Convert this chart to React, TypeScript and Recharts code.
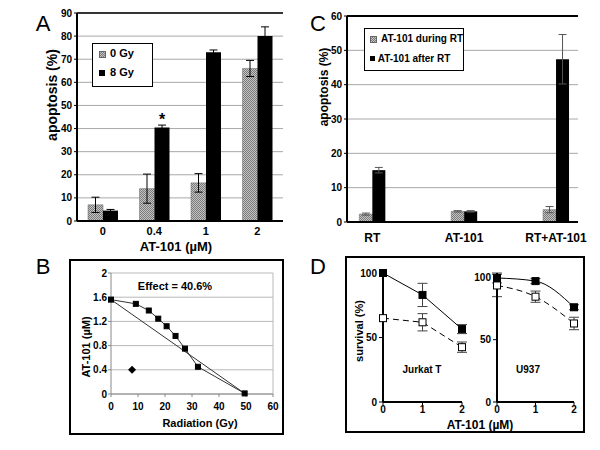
import React from 'react';
import {
  BarChart, Bar, XAxis, YAxis, CartesianGrid, ErrorBar, LabelList,
  ReferenceLine, ComposedChart, Line, LineChart,
} from 'recharts';

// ---------- Panel A ----------
const doseA = ['0', '0.4', '1', '2'];
const apop0Gy = [7, 14, 16.5, 66];
const apop0GyErr = [3.3, 6.3, 4, 3.5];
const apop8Gy = [4.5, 40.5, 73, 80];
const apop8GyErr = [0.5, 1, 1, 4];
const sigA = ['', '*', '', ''];
const ticksA = [0, 10, 20, 30, 40, 50, 60, 70, 80, 90];

// ---------- Panel C ----------
const groupsC = ['RT', 'AT-101', 'RT+AT-101'];
const duringRT = [2.3, 3.1, 3.6];
const duringRTErr = [0.3, 0.2, 0.9];
const afterRT = [15.1, 3.1, 47.4];
const afterRTErr = [0.8, 0.2, 7.2];
const ticksC = [0, 10, 20, 30, 40, 50, 60];

// ---------- Panel B ----------
const isoRad = [0, 9.2, 14, 17.5, 20.6, 23.9, 27.4, 32.2, 49.5];
const isoDose = [1.56, 1.49, 1.38, 1.245, 1.12, 0.96, 0.75, 0.45, 0.01];
const addRad = [0, 49.5];
const addDose = [1.56, 0.01];
const comboRad = [7.8];
const comboDose = [0.4];
const ticksBx = [0, 10, 20, 30, 40, 50, 60];
const ticksBy = [0, 0.4, 0.8, 1.2, 1.6, 2];

// ---------- Panel D ----------
const doseD = [0, 1, 2];
const jurkatAT = [100, 83, 56.5];
const jurkatATErr = [0, 9, 3.5];
const jurkatATRT = [65, 61.8, 42.5];
const jurkatATRTErr = [0, 6.7, 4];
const u937AT = [99.5, 97, 76];
const u937ATErr = [4, 2, 2];
const u937ATRT = [93.5, 84.5, 63];
const u937ATRTErr = [9, 4.5, 5];
const ticksDy = [0, 50, 100];

const FONT = '"Liberation Sans", Arial, Helvetica, sans-serif';

const dataA = doseA.map((d, i) => ({
  dose: d, g0: apop0Gy[i], g0e: apop0GyErr[i], g8: apop8Gy[i], g8e: apop8GyErr[i], star: sigA[i],
}));
const dataC = groupsC.map((g, i) => ({
  pos: i, d: duringRT[i], de: duringRTErr[i], a: afterRT[i], ae: afterRTErr[i],
}));
const isoData = isoRad.map((x, i) => ({ x, y: isoDose[i] }));
const addData = addRad.map((x, i) => ({ x, y: addDose[i] }));
const comboData = comboRad.map((x, i) => ({ x, y: comboDose[i] }));
const dataJ = doseD.map((x, i) => ({ x, c: jurkatAT[i], ce: jurkatATErr[i], r: jurkatATRT[i], re: jurkatATRTErr[i] }));
const dataU = doseD.map((x, i) => ({ x, c: u937AT[i], ce: u937ATErr[i], r: u937ATRT[i], re: u937ATRTErr[i] }));

const tickStyle = (size: number) => ({ fontSize: size, fontWeight: 'bold', fill: '#000', fontFamily: FONT });

function Txt({ x, y, size, children, rotate = false, bold = true }: any) {
  return (
    <div style={{
      position: 'absolute', left: x, top: y,
      transform: `translate(-50%,-50%)${rotate ? ' rotate(-90deg)' : ''}`,
      fontSize: size, fontWeight: bold ? 'bold' : 'normal', whiteSpace: 'nowrap',
      lineHeight: 1, fontFamily: FONT, color: '#000',
    }}>{children}</div>
  );
}

const hatchCss = 'repeating-conic-gradient(#7a7a7a 0 25%, #c4c4c4 0 50%) 0 0/2px 2px';

function Hatch({ id }: { id: string }) {
  return (
    <defs>
      <pattern id={id} width="2" height="2" patternUnits="userSpaceOnUse">
        <rect width="2" height="2" fill="#c4c4c4" />
        <rect width="1" height="1" fill="#7a7a7a" />
        <rect x="1" y="1" width="1" height="1" fill="#7a7a7a" />
      </pattern>
    </defs>
  );
}

const SquareDot = (size: number, fill: string) => (props: any) => {
  const { cx, cy, index } = props;
  if (cx == null || cy == null) return <g key={index} />;
  return <rect key={index} x={cx - size / 2} y={cy - size / 2} width={size} height={size} fill={fill} stroke="#000" strokeWidth={1} />;
};

const DiamondDot = (props: any) => {
  const { cx, cy, index } = props;
  if (cx == null || cy == null) return <g key={index} />;
  const r = 4;
  return <path key={index} d={`M${cx},${cy - r}L${cx + r},${cy}L${cx},${cy + r}L${cx - r},${cy}Z`} fill="#000" />;
};

export default function App() {
  return (
    <div style={{ position: 'absolute', left: 0, top: 0, width: 600, height: 450, background: '#fff', fontFamily: FONT }}>
      {/* Panel A */}
      <div style={{ position: 'absolute', left: 0, top: 0 }}>
        <BarChart width={300} height={250} data={dataA} margin={{ top: 13, right: 17, bottom: 9, left: 47 }} barGap={0} barSize={15}>
          <Hatch id="hatchA" />
          <CartesianGrid vertical={false} stroke="#a8a8a8" />
          <XAxis dataKey="dose" height={20} axisLine={{ stroke: '#000', strokeWidth: 2 }} tickLine={false} tickSize={4} tick={tickStyle(11)} />
          <YAxis width={30} domain={[0, 90]} ticks={ticksA} interval={0} axisLine={{ stroke: '#000', strokeWidth: 2 }} tickLine={{ stroke: '#000' }} tickSize={3} tick={tickStyle(10)} />
          <YAxis yAxisId="r" orientation="right" width={0} domain={[0, 90]} tick={false} tickLine={false} axisLine={{ stroke: '#000', strokeWidth: 1.5 }} />
          <ReferenceLine y={90} stroke="#000" strokeWidth={1.5} />
          <Bar dataKey="g0" fill="url(#hatchA)" stroke="#666" strokeWidth={0.5} isAnimationActive={false}>
            <ErrorBar dataKey="g0e" width={4} stroke="#000" strokeWidth={1} direction="y" />
          </Bar>
          <Bar dataKey="g8" fill="#000" isAnimationActive={false}>
            <ErrorBar dataKey="g8e" width={4} stroke="#000" strokeWidth={1} direction="y" />
            <LabelList dataKey="star" position="top" offset={2} fill="#000" style={{ fontSize: 16, fontWeight: 'bold', fontFamily: FONT }} />
          </Bar>
        </BarChart>
      </div>
      <div style={{ position: 'absolute', left: 92, top: 43, width: 61, height: 44, border: '1px solid #000', background: '#fff', boxSizing: 'border-box' }}>
        <div style={{ position: 'absolute', left: 6, top: 7, width: 5, height: 5, background: hatchCss, border: '0.5px solid #666' }} />
        <div style={{ position: 'absolute', left: 6, top: 26, width: 6, height: 6, background: '#000' }} />
      </div>
      <Txt x={122} y={53} size={11}>0 Gy</Txt>
      <Txt x={122} y={72} size={11}>8 Gy</Txt>
      <Txt x={52} y={95} size={14} rotate>apoptosis (%)</Txt>
      <Txt x={176} y={246} size={13}>AT-101 (µM)</Txt>
      <Txt x={43} y={24} size={22} bold={false}>A</Txt>

      {/* Panel C */}
      <div style={{ position: 'absolute', left: 300, top: 0 }}>
        <BarChart width={300} height={250} data={dataC} margin={{ top: 16, right: 22, bottom: 8, left: 17 }} barGap={0} barSize={13}>
          <Hatch id="hatchC" />
          <CartesianGrid vertical={false} stroke="#a8a8a8" />
          <XAxis type="number" dataKey="pos" domain={[-0.275, 2.24]} ticks={[0, 1, 2]} tickFormatter={(v: number) => groupsC[v]} height={20} axisLine={{ stroke: '#000', strokeWidth: 2 }} tickLine={false} tickMargin={5} tick={tickStyle(12)} />
          <YAxis width={30} domain={[0, 60]} ticks={ticksC} interval={0} axisLine={{ stroke: '#000', strokeWidth: 2 }} tickLine={{ stroke: '#000' }} tickSize={3} tick={tickStyle(10)} />
          <YAxis yAxisId="r" orientation="right" width={0} domain={[0, 60]} tick={false} tickLine={false} axisLine={{ stroke: '#000', strokeWidth: 2 }} />
          <ReferenceLine y={60} stroke="#000" strokeWidth={2} />
          <Bar dataKey="d" fill="url(#hatchC)" stroke="#666" strokeWidth={0.5} isAnimationActive={false}>
            <ErrorBar dataKey="de" width={4} stroke="#555" strokeWidth={1} direction="y" />
          </Bar>
          <Bar dataKey="a" fill="#000" isAnimationActive={false}>
            <ErrorBar dataKey="ae" width={4} stroke="#555" strokeWidth={1} direction="y" />
          </Bar>
        </BarChart>
      </div>
      <div style={{ position: 'absolute', left: 364, top: 28, width: 100, height: 43, border: '1px solid #000', background: '#fff', boxSizing: 'border-box' }}>
        <div style={{ position: 'absolute', left: 5, top: 7, width: 5, height: 5, background: hatchCss, border: '0.5px solid #666' }} />
        <div style={{ position: 'absolute', left: 5, top: 27, width: 5, height: 5, background: '#000' }} />
      </div>
      <Txt x={422} y={39} size={10}>AT-101 during RT</Txt>
      <Txt x={414} y={59} size={10}>AT-101 after RT</Txt>
      <Txt x={324} y={87} size={12} rotate>apoptosis (%)</Txt>
      <Txt x={318} y={24} size={22} bold={false}>C</Txt>

      {/* Panel B */}
      <div style={{ position: 'absolute', left: 69, top: 259, width: 215, height: 176, border: '2px solid #000', boxSizing: 'border-box' }} />
      <div style={{ position: 'absolute', left: 0, top: 250 }}>
        <ComposedChart width={300} height={200} margin={{ top: 23, right: 27, bottom: 36, left: 81 }}>
          <CartesianGrid vertical={false} stroke="#b8b8b8" />
          <XAxis type="number" dataKey="x" domain={[0, 60]} ticks={ticksBx} interval={0} height={20} axisLine={{ stroke: '#888' }} tickLine={{ stroke: '#888' }} tickSize={3} tickMargin={6} tick={tickStyle(10)} />
          <YAxis type="number" domain={[0, 2]} ticks={ticksBy} interval={0} width={30} axisLine={{ stroke: '#888' }} tickLine={{ stroke: '#888' }} tickSize={3} tickMargin={1} tick={tickStyle(10)} />
          <ReferenceLine x={60} stroke="#b8b8b8" />
          <Line data={addData} dataKey="y" type="linear" stroke="#333" strokeWidth={1} dot={false} isAnimationActive={false} />
          <Line data={isoData} dataKey="y" type="linear" stroke="#333" strokeWidth={1} dot={SquareDot(5, '#000')} isAnimationActive={false} />
          <Line data={comboData} dataKey="y" type="linear" stroke="none" dot={DiamondDot} isAnimationActive={false} />
        </ComposedChart>
      </div>
      <Txt x={175} y={286} size={11}>Effect = 40.6%</Txt>
      <Txt x={86} y={347} size={11} rotate>AT-101 (µM)</Txt>
      <Txt x={200} y={423} size={11}>Radiation (Gy)</Txt>
      <Txt x={43} y={267} size={22} bold={false}>B</Txt>

      {/* Panel D */}
      <div style={{ position: 'absolute', left: 345, top: 256, width: 240, height: 177, border: '2px solid #000', boxSizing: 'border-box' }} />
      <div style={{ position: 'absolute', left: 340, top: 260 }}>
        <LineChart width={130} height={170} data={dataJ} margin={{ top: 13, right: 8, bottom: 8, left: 13 }}>
          <XAxis type="number" dataKey="x" domain={[0, 2]} ticks={doseD} interval={0} height={20} axisLine={{ stroke: '#000', strokeWidth: 2 }} tickLine={{ stroke: '#000' }} tickSize={3} tickMargin={1} tick={tickStyle(10)} />
          <YAxis domain={[0, 100]} ticks={ticksDy} interval={0} width={30} axisLine={{ stroke: '#000', strokeWidth: 2 }} tickLine={{ stroke: '#000' }} tickSize={4} tick={tickStyle(10)} />
          <Line dataKey="r" type="linear" stroke="#000" strokeWidth={1} strokeDasharray="6 4" dot={SquareDot(7, '#fff')} isAnimationActive={false}>
            <ErrorBar dataKey="re" width={5} stroke="#444" strokeWidth={1} direction="y" />
          </Line>
          <Line dataKey="c" type="linear" stroke="#000" strokeWidth={1} dot={SquareDot(7, '#000')} isAnimationActive={false}>
            <ErrorBar dataKey="ce" width={5} stroke="#444" strokeWidth={1} direction="y" />
          </Line>
        </LineChart>
      </div>
      <div style={{ position: 'absolute', left: 455, top: 260 }}>
        <LineChart width={130} height={170} data={dataU} margin={{ top: 13, right: 11, bottom: 8, left: 12 }}>
          <XAxis type="number" dataKey="x" domain={[0, 2]} ticks={doseD} interval={0} height={20} axisLine={{ stroke: '#000', strokeWidth: 2 }} tickLine={{ stroke: '#000' }} tickSize={3} tickMargin={1} tick={tickStyle(10)} />
          <YAxis domain={[0, 100]} ticks={ticksDy} interval={0} width={30} axisLine={{ stroke: '#000', strokeWidth: 2 }} tickLine={{ stroke: '#000' }} tickSize={4} tick={tickStyle(10)} />
          <Line dataKey="r" type="monotone" stroke="#000" strokeWidth={1} strokeDasharray="6 4" dot={SquareDot(7, '#fff')} isAnimationActive={false}>
            <ErrorBar dataKey="re" width={5} stroke="#444" strokeWidth={1} direction="y" />
          </Line>
          <Line dataKey="c" type="monotone" stroke="#000" strokeWidth={1} dot={SquareDot(7, '#000')} isAnimationActive={false}>
            <ErrorBar dataKey="ce" width={5} stroke="#444" strokeWidth={1} direction="y" />
          </Line>
        </LineChart>
      </div>
      <Txt x={359} y={331} size={11} rotate>survival (%)</Txt>
      <Txt x={422} y={370} size={10}>Jurkat T</Txt>
      <Txt x={528} y={370} size={10}>U937</Txt>
      <Txt x={480} y={425} size={12}>AT-101 (µM)</Txt>
      <Txt x={318} y={267} size={22} bold={false}>D</Txt>
    </div>
  );
}
